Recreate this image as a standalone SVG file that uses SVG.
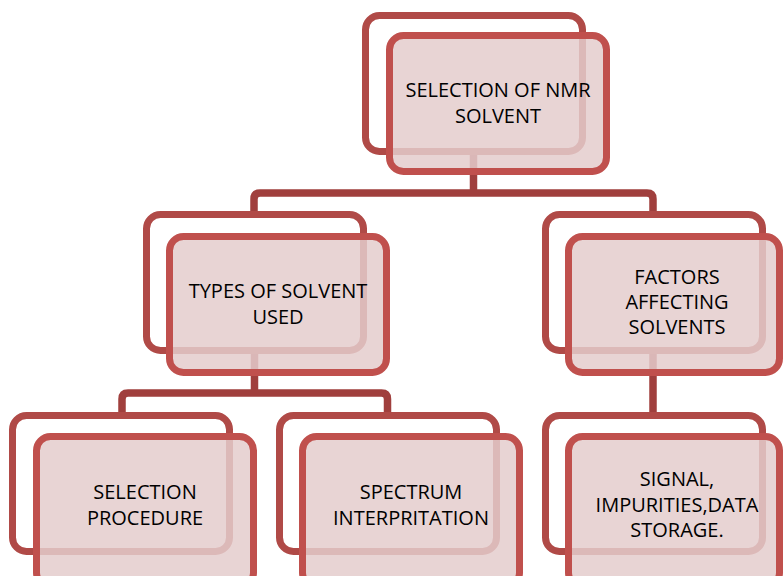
<svg xmlns="http://www.w3.org/2000/svg" width="783" height="576" viewBox="0 0 783 576">
<style>
.conn{fill:none;stroke:#a03f3d;stroke-width:7.5;stroke-linejoin:round}
.back{fill:#ffffff;stroke:#b04a47;stroke-width:7}
.front{fill:rgb(228,205,205);fill-opacity:0.85;stroke:#c0504d;stroke-width:7}
text{font-family:"Open Sans","Liberation Sans",sans-serif;font-size:20px;fill:#000;text-anchor:middle}
</style>
<rect width="783" height="576" fill="#ffffff"/>
<g id="connectors">
<path class="conn" d="M473.5,150 V193"/>
<path class="conn" d="M254,214 V199 Q254,193 260,193 H647 Q653,193 653,199 V214"/>
<path class="conn" d="M254.5,351 V393"/>
<path class="conn" d="M122,415 V399 Q122,393 128,393 H381.5 Q387.5,393 387.5,399 V415"/>
<path class="conn" d="M653,351 V415"/>
</g>
<g id="node-selection-of-nmr-solvent">
<rect class="back" x="365.5" y="15.5" width="217" height="136" rx="14"/>
<rect class="front" x="389.5" y="35.5" width="217" height="136" rx="14"/>
<text x="498" y="97">SELECTION OF NMR</text>
<text x="498" y="123">SOLVENT</text>
</g>
<g id="node-types-of-solvent-used">
<rect class="back" x="146.5" y="214.5" width="217" height="136" rx="14"/>
<rect class="front" x="169.5" y="236.5" width="217" height="136" rx="14"/>
<text x="278" y="298">TYPES OF SOLVENT</text>
<text x="278" y="324">USED</text>
</g>
<g id="node-factors-affecting-solvents">
<rect class="back" x="545.5" y="214.5" width="217" height="136" rx="14"/>
<rect class="front" x="568.5" y="236.5" width="211" height="136" rx="14"/>
<text x="677" y="284">FACTORS</text>
<text x="677" y="309">AFFECTING</text>
<text x="677" y="334">SOLVENTS</text>
</g>
<g id="node-selection-procedure">
<rect class="back" x="12.5" y="415.5" width="217" height="136" rx="14"/>
<rect class="front" x="36.5" y="436.5" width="217" height="150" rx="14"/>
<text x="145" y="499">SELECTION</text>
<text x="145" y="525">PROCEDURE</text>
</g>
<g id="node-spectrum-interpritation">
<rect class="back" x="279.5" y="415.5" width="217" height="136" rx="14"/>
<rect class="front" x="302.5" y="436.5" width="217" height="150" rx="14"/>
<text x="411" y="499">SPECTRUM</text>
<text x="411" y="525">INTERPRITATION</text>
</g>
<g id="node-signal-impurities-data-storage">
<rect class="back" x="545.5" y="415.5" width="217" height="136" rx="14"/>
<rect class="front" x="568.5" y="436.5" width="211" height="150" rx="14"/>
<text x="677" y="486">SIGNAL,</text>
<text x="677" y="512">IMPURITIES,DATA</text>
<text x="677" y="537">STORAGE.</text>
</g>
</svg>
